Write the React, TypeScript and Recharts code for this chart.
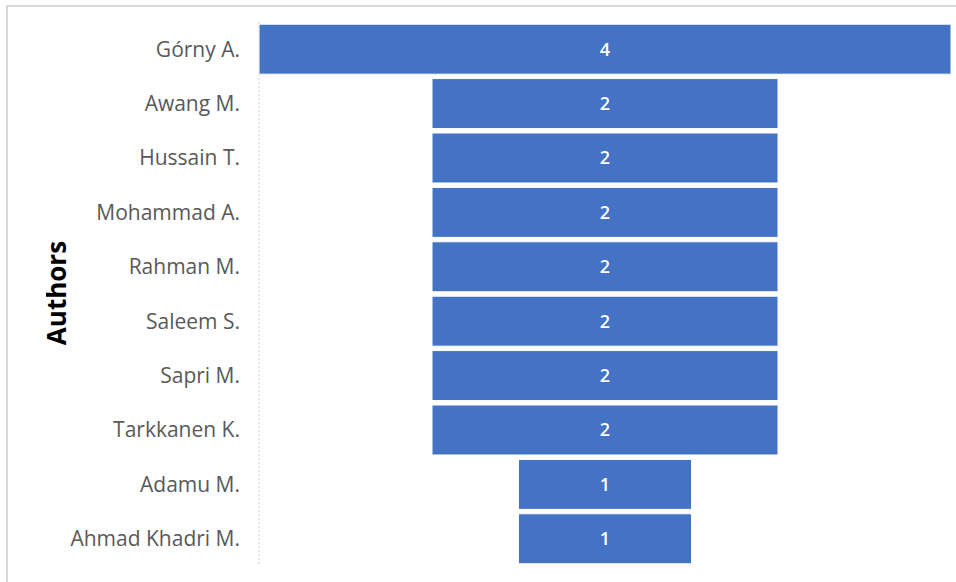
import { BarChart, Bar, XAxis, YAxis, LabelList } from "recharts"

const authors = [
  "Górny A.",
  "Awang M.",
  "Hussain T.",
  "Mohammad A.",
  "Rahman M.",
  "Saleem S.",
  "Sapri M.",
  "Tarkkanen K.",
  "Adamu M.",
  "Ahmad Khadri M.",
]
const documents = [4, 2, 2, 2, 2, 2, 2, 2, 1, 1]

const maxCount = Math.max(...documents)

// funnel = invisible offset bar + centered value bar
const data = authors.map((name, i) => ({
  name,
  pad: (maxCount - documents[i]) / 2,
  count: documents[i],
}))

const FONT = "'Open Sans', 'DejaVu Sans', sans-serif"

const AxisTitle = () => (
  <g>
    <defs>
      <clipPath id="title-clip">
        <rect x={46} y={200} width={40} height={200} />
      </clipPath>
    </defs>
    <g clipPath="url(#title-clip)">
      <text
        x={66}
        y={293}
        transform="rotate(-90, 66, 293)"
        textAnchor="middle"
        fontFamily={FONT}
        fontWeight="bold"
        fontSize={26}
        fill="#000"
      >
        Authors
      </text>
    </g>
  </g>
)

export default function App() {
  return (
    <div style={{ position: "absolute", left: 0, top: 0, width: 956, height: 582, background: "#fff" }}>
      <div
        style={{
          position: "absolute",
          left: 6,
          top: 5,
          right: 0,
          bottom: 0,
          borderTop: "2px solid #d9d9d9",
          borderLeft: "2px solid #d9d9d9",
        }}
      />
      <div style={{ position: "absolute", left: 0, top: 0 }}>
        <BarChart
          width={956}
          height={582}
          data={data}
          layout="vertical"
          margin={{ top: 22, right: 5, bottom: 16, left: 0 }}
          barCategoryGap="4%"
        >
          <XAxis type="number" domain={[0, maxCount]} hide />
          <YAxis
            type="category"
            dataKey="name"
            width={259}
            tickLine={false}
            tickSize={0}
            tickMargin={19}
            axisLine={{ stroke: "#d0d0d0", strokeDasharray: "2 2" }}
            tick={{ fill: "#595959", fontSize: 21, fontFamily: FONT }}
            label={{ content: () => <AxisTitle /> }}
          />
          <Bar dataKey="pad" stackId="f" fill="transparent" isAnimationActive={false} />
          <Bar dataKey="count" stackId="f" fill="#4472C4" stroke="#ffffff" strokeWidth={1} isAnimationActive={false}>
            <LabelList dataKey="count" position="center" fill="#ffffff" fontSize={18} fontWeight={600} fontFamily={FONT} />
          </Bar>
        </BarChart>
      </div>
    </div>
  )
}
